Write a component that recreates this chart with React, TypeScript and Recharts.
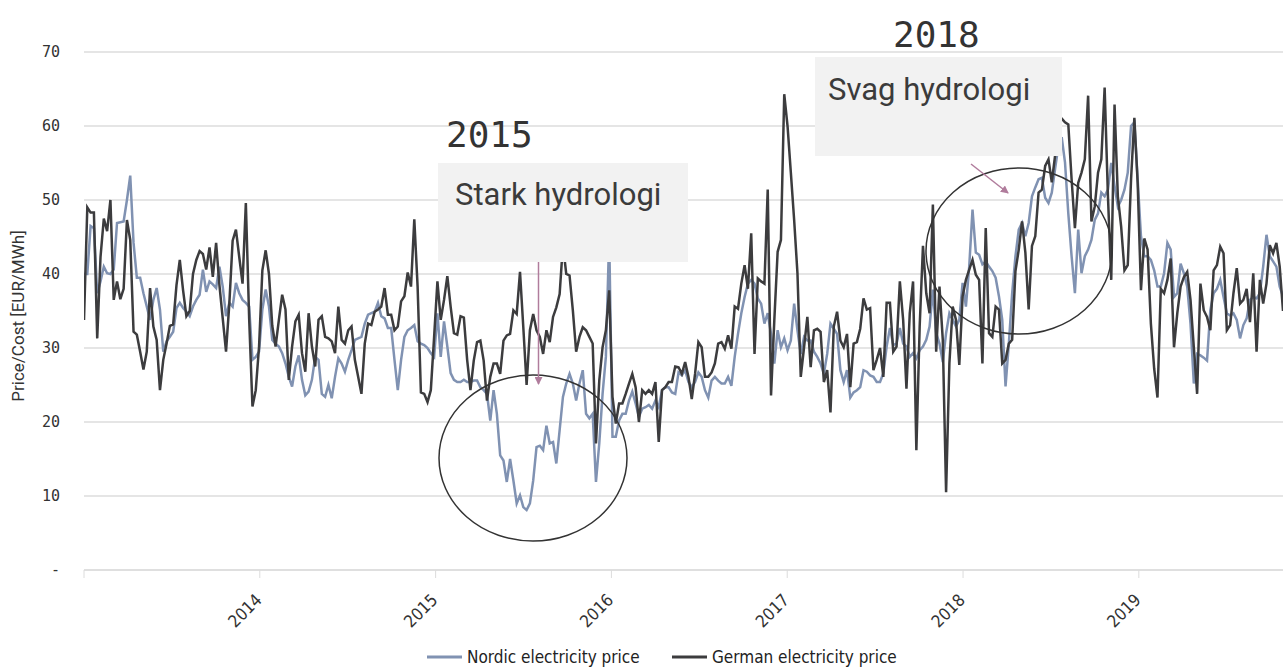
import React from 'react';
import { LineChart, Line, XAxis, YAxis, CartesianGrid } from 'recharts';

// weekly prices, EUR/MWh (Jan 2013 -> Oct 2019)
const nordic = [
  40, 40, 46.5, 46.2, 37.4, 39, 41, 40.1, 40, 40.6, 46.9, 47, 47.1, 50, 53.3, 44.2, 39.5, 39.5, 37.4, 35.6,
  33.8, 36.5, 38.1, 35.2, 29.5, 30.9, 31.5, 32.2, 35.4, 36.1, 35.4, 34.9, 34.3, 35.6, 36.5, 37.2, 40.6, 37.6, 39, 38.6,
  38.1, 41, 38.3, 34.3, 36.1, 35.6, 38.8, 37.4, 36.5, 36.1, 35.6, 28.4, 28.8, 29.5, 35.2, 37.9, 35.6, 31.1, 30.6,
  30.2, 29.3, 27.9, 26.1, 24.8, 27.5, 29, 25.7, 23.6, 24.1, 25.7, 28.8, 28.4, 23.8, 23.4, 25, 23.2, 26.1, 28.6, 27.9,
  26.8, 28.4, 29.7, 31.1, 31.3, 31.5, 33.3, 34.5, 34.7, 34.9, 36.1, 34.3, 34, 32.7, 32.7, 28.4, 24.3, 28.4, 31.5, 32.4,
  32.7, 33.1, 30.9, 30.6, 30.4, 30, 29.3, 28.8, 34.7, 28.8, 33.6, 30.2, 26.6, 25.7, 25.4, 25.4, 25.7, 25.4, 25.4,
  25.6, 25.6, 24.7, 24.3, 23.8, 20.2, 24.3, 21.1, 15.5, 14.8, 11.9, 15, 12.1, 9, 10.1, 8.5, 8.1, 9, 12.1, 16.6,
  16.8, 16.2, 19.5, 17.1, 17.3, 14.4, 18.9, 23.4, 25.2, 26.5, 25.2, 22.9, 25.2, 27, 21.1, 20.5, 21.1, 11.9, 17.1, 23.8,
  28.8, 45, 18, 18, 20.2, 21.1, 21.1, 22.9, 24.1, 22.5, 20.7, 21.8, 22, 22.3, 21.8, 22.9, 22, 24.3, 24.7,
  24.7, 24, 23.8, 26.7, 26.3, 27, 25.4, 24.7, 25.4, 26.7, 26.1, 24.3, 23.3, 25.6, 26.1, 25.6, 25.2, 25.2, 26.1, 24.9,
  28.8, 31.9, 34.7, 36.9, 38.7, 39.2, 38.7, 36.7, 36, 33.3, 34.7, 31.9, 27.9, 32.4, 30.1, 31.3, 29.7, 31, 36, 32.4,
  29.2, 31.5, 31, 31, 29.5, 28.8, 27.9, 26.5, 29.2, 33.3, 32.6, 31.9, 27, 25.4, 27, 23.3, 24, 24.3, 24.7,
  27, 26.8, 26.3, 26.1, 25.4, 25.4, 26.6, 30.2, 32.7, 30.4, 30.6, 32.7, 30.6, 30.2, 28.8, 29.3, 28.6, 29.7, 30.2, 31.1,
  32.9, 37.9, 32, 30.6, 28.1, 32, 34.7, 33.8, 32.9, 33.8, 38.8, 35.6, 41, 48.7, 42.9, 42.6, 41.3, 41.7, 41, 40.4,
  39.5, 37, 33.8, 24.8, 30.6, 37.4, 42.4, 46, 46.9, 45.1, 46.9, 50.5, 51.7, 52.8, 53, 50.3, 49.6, 51, 54.2, 57.3,
  58.5, 55.1,
  48.2, 42.4, 37.4, 46, 40.1, 42.4, 43.3, 44.6, 47.3, 48.2, 51, 50.5, 51.4, 55, 51.9, 49.1, 50, 51.4, 53.7, 60,
  60.5, 52.8, 45.1, 42.4, 42.4, 41.9, 40.5, 38.3, 38.3, 40.1, 44.2, 43.3, 36.9, 37.4, 41.4, 40.1, 38.3, 33.3, 25.2, 29.2,
  29, 28.7, 28.3, 35.1, 37.4, 38, 39.2, 36.9, 34.7, 34.4, 34.7, 33.8, 31.3, 33.1, 34, 36.5, 36.9, 36.7, 37.4, 41,
  45.3, 42.4, 41.7, 41, 38.3, 37,
];

const german = [
  33.8, 49, 48.3, 48.3, 31.3, 42.3, 47.5, 45.8, 50, 36.5, 39, 36.6, 38, 47.3, 44.6, 32.2, 31.8, 29.5, 27.1, 29.5,
  38.1, 32.9, 31.1, 24.3, 28.4, 30.6, 33, 33.2, 38.5, 41.9, 37.8, 34.3, 35, 40, 41.9, 43.1, 42.7, 40.6, 43.6, 39.6,
  44.2, 38.5, 34, 29.5, 36, 44.5, 46, 42.3, 38.7, 49.6, 34, 22.1, 24.3, 30.2, 40.5, 43.2, 40, 33, 30.2,
  33.8, 37.2, 35.2, 25.7, 30.2, 33.6, 34.5, 29.3, 26.8, 34.7, 30.2, 27.5, 33.8, 34.3, 31.5, 31.3, 30.9, 29.3, 35.6, 31.1,
  30.6, 32.4, 32.9, 28.4, 26.1, 23.8, 30.6, 33.3, 33.1, 34.9, 35.2, 35.6, 38.1, 34.5, 34.5, 32.4, 32.9, 36.3, 37, 40.2,
  38.3, 47.4, 38.3, 24, 23.8, 22.7, 24.3, 31.5, 39, 33.8, 36.5, 39.7, 35.6, 32, 31.8, 34.3, 34.1, 28.4, 24.3,
  28.3, 30.8, 31, 28.3, 22.9, 26.1, 27.9, 27.9, 26.5, 31, 31.7, 31.9, 35.1, 34.6, 40.3, 32.8, 25, 32.4, 34.6, 32.4,
  31.5, 29.2, 32.4, 30.8, 34.2, 35.5, 37.3, 44, 40, 39.8, 35.1, 29.5, 31.5, 32.8, 32.4, 31.5, 30.6, 17.1, 25.6, 30.1,
  32.4, 37.8, 23.4, 19.8, 22.5, 22.5, 23.8, 25.2, 26.5, 24.7, 20, 24.3, 23.8, 24.3, 23.8, 25.4, 17.3, 24.3, 24.7,
  25.4, 25.4, 27.5, 27.4, 26.5, 28.1, 26.1, 23.1, 26.5, 30.8, 30.1, 26.1, 26.1, 26.7, 27.9, 30.6, 30.8, 29.9, 31.7, 29.9,
  35.6, 35.3, 38.7, 41.2, 38, 45.5, 29.2, 39.4, 39, 38.7, 51.4, 23.6, 33.8, 43, 44.6, 64.3, 60, 53.7, 47.3, 40.1,
  26.1, 30.1, 34.2, 27.4, 32.4, 32.6, 32.2, 25.4, 27, 21.3, 32.9, 34.9, 31, 30.1, 31.9, 24.7, 30.6, 30.8, 32.6,
  36.7, 35.2, 35.4, 27, 28.4, 30, 26.1, 36.1, 36.1, 29.5, 30.2, 39, 33.8, 24.5, 34.7, 39, 16.2, 32.9, 43.8, 37.4,
  34.7, 49.4, 29.5, 38.3, 31.1, 10.5, 27.9, 35.6, 33.8, 27.7, 37, 39.2, 40.6, 41.9, 39.9, 39.2, 27.9, 46.2, 32, 31.5,
  35.6, 35.2, 27.9, 28.4, 30.6, 31.1, 40.4, 43.3, 47.1, 42.9, 35.2, 43.8, 45.1, 51, 51.4, 54.6, 55.5, 52.4, 56, 61,
  61, 60.5,
  60.2, 52.8, 46.2, 52.3, 53.7, 55.5, 64.1, 47.1, 49.1, 53.7, 55.5, 65.2, 50.5, 39.2, 62.9, 50.5, 46.4, 40.5, 41.2, 52.8,
  61.1, 52.3, 37.8, 44.8, 43.3, 33.3, 27.2, 23.3, 38, 37.4, 39.2, 42.1, 30.1, 34.7, 38.3, 39.6, 40.3, 36.5, 30.1, 23.8,
  38.7, 35.1, 34.2, 32.4, 40.5, 41.2, 43.7, 42.8, 32.4, 33.1, 37.4, 40.8, 36, 36.5, 38, 33.5, 40.1, 29.5, 39.2, 36,
  38.7, 43.9, 42.8, 44.2, 41, 35,
];

const yearTicks = [2013, 2014, 2015, 2016, 2017, 2018, 2019];
const priceTicks = [0, 10, 20, 30, 40, 50, 60, 70];
const START = 2013;
const END = 2019.82;

const data = german.map((g, i) => ({
  t: START + (i * (END - START)) / (german.length - 1),
  nordic: nordic[i],
  german: g,
}));

const NORDIC_COLOR = '#8092b2';
const GERMAN_COLOR = '#3c3c3e';
const GRID = '#dcdcdc';
const NARROW = '"Liberation Sans Narrow", "DejaVu Sans Condensed", Roboto, sans-serif';
const MONO = '"DejaVu Sans Mono", monospace';

const YearTick = ({ x, y, payload }: any) => {
  if (payload.value === 2013) return null;
  const ax = x + 3;
  const ay = y + 21;
  return (
    <text x={ax} y={ay} transform={`rotate(-45 ${ax} ${ay})`} textAnchor="end"
      fontFamily={NARROW} fontSize={17} fill="#333">
      {payload.value}
    </text>
  );
};

const Annotations = () => (
  <svg width={1283} height={668} style={{ position: 'absolute', left: 0, top: 0, pointerEvents: 'none' }}>
    <defs>
      <marker id="head" markerWidth="8" markerHeight="8" refX="7" refY="4" orient="auto" markerUnits="userSpaceOnUse">
        <path d="M0,0 L8,4 L0,8 z" fill="#b07c9c" />
      </marker>
    </defs>
    <rect x={438} y={163} width={250} height={99} fill="#f2f2f2" />
    <rect x={815} y={57} width={247} height={99} fill="#f2f2f2" />
    <text x={455} y={205} fontFamily="Roboto, sans-serif" fontSize={31} fill="#3b3b3b">Stark hydrologi</text>
    <text x={828} y={100} fontFamily="Roboto, sans-serif" fontSize={31} fill="#3b3b3b">Svag hydrologi</text>
    <text x={446} y={147} fontFamily={MONO} fontSize={36} fill="#333">2015</text>
    <text x={893} y={47} fontFamily={MONO} fontSize={36} fill="#333">2018</text>
    <ellipse cx={533} cy={458} rx={94} ry={83} fill="none" stroke="#333" strokeWidth={1.5} />
    <ellipse cx={1019} cy={251} rx={93} ry={83} fill="none" stroke="#333" strokeWidth={1.5} />
    <line x1={538.5} y1={262} x2={538.5} y2={384} stroke="#b07c9c" strokeWidth={1.5} markerEnd="url(#head)" />
    <line x1={971} y1={164} x2={1008} y2={193} stroke="#b07c9c" strokeWidth={1.5} markerEnd="url(#head)" />
    <text x={24} y={316} transform="rotate(-90 24 316)" textAnchor="middle"
      fontFamily="Roboto, sans-serif" fontSize={17} fill="#333">Price/Cost [EUR/MWh]</text>
  </svg>
);

const LegendItem = ({ left, color, label }: { left: number; color: string; label: string }) => (
  <div style={{ position: 'absolute', left, top: 647, display: 'flex', alignItems: 'center', height: 20 }}>
    <svg width={35} height={6}><line x1={0} y1={3} x2={35} y2={3} stroke={color} strokeWidth={3} /></svg>
    <span style={{ marginLeft: 5, fontFamily: NARROW, fontSize: 17, lineHeight: '20px', color: '#222', whiteSpace: 'nowrap' }}>{label}</span>
  </div>
);

export default function App() {
  return (
    <div style={{ position: 'fixed', left: 0, top: 0, width: 1283, height: 668, overflow: 'hidden', background: '#fff' }}>
      <LineChart width={1283} height={668} data={data} margin={{ top: 52, right: 0, bottom: 0, left: 24 }}>
        <CartesianGrid vertical={false} stroke={GRID} strokeWidth={1.5} />
        <XAxis
          dataKey="t"
          type="number"
          domain={[START, END]}
          ticks={yearTicks}
          interval={0}
          allowDataOverflow
          height={98}
          tickSize={8}
          tickLine={{ stroke: GRID }}
          axisLine={{ stroke: GRID, strokeWidth: 1.5 }}
          tick={<YearTick />}
        />
        <YAxis
          domain={[0, 70]}
          ticks={priceTicks}
          width={60}
          axisLine={false}
          tickLine={false}
          tickSize={0}
          tickMargin={24}
          tick={{ fontFamily: MONO, fontSize: 15, fill: '#333' }}
          tickFormatter={(v: number) => (v === 0 ? '-' : String(v))}
        />
        <Line type="linear" dataKey="nordic" stroke={NORDIC_COLOR} strokeWidth={2.5} dot={false} isAnimationActive={false} />
        <Line type="linear" dataKey="german" stroke={GERMAN_COLOR} strokeWidth={2.5} dot={false} isAnimationActive={false} />
      </LineChart>
      <Annotations />
      <LegendItem left={427} color={NORDIC_COLOR} label="Nordic electricity price" />
      <LegendItem left={672} color={GERMAN_COLOR} label="German electricity price" />
    </div>
  );
}
